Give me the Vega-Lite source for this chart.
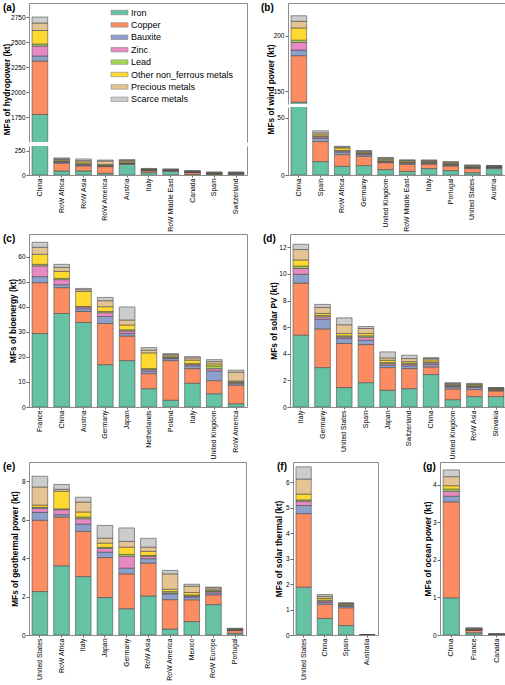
{
"$schema": "https://vega.github.io/schema/vega-lite/v6.json",
"padding": {"left": 2, "top": 3, "right": 0, "bottom": 0},
"datasets": {
"metals": [{"metal":"Iron","rank":1},{"metal":"Copper","rank":2},{"metal":"Bauxite","rank":3},{"metal":"Zinc","rank":4},{"metal":"Lead","rank":5},{"metal":"Other non_ferrous metals","rank":6},{"metal":"Precious metals","rank":7},{"metal":"Scarce metals","rank":8}],
"mf": [
{"p":"a","c":"China","Iron":1775,"Copper":535,"Bauxite":50,"Zinc":100,"Lead":20,"Other non_ferrous metals":135,"Precious metals":75,"Scarce metals":60},
{"p":"a","c":"RoW Africa","Iron":42,"Copper":80,"Bauxite":12,"Zinc":10,"Lead":3,"Other non_ferrous metals":12,"Precious metals":8,"Scarce metals":10},
{"p":"a","c":"RoW Asia","Iron":42,"Copper":52,"Bauxite":12,"Zinc":8,"Lead":3,"Other non_ferrous metals":18,"Precious metals":14,"Scarce metals":17},
{"p":"a","c":"RoW America","Iron":17,"Copper":70,"Bauxite":6,"Zinc":4,"Lead":3,"Other non_ferrous metals":10,"Precious metals":35,"Scarce metals":10},
{"p":"a","c":"Austria","Iron":110,"Copper":8,"Bauxite":3,"Zinc":3,"Lead":3,"Other non_ferrous metals":15,"Precious metals":8,"Scarce metals":10},
{"p":"a","c":"Italy","Iron":25,"Copper":18,"Bauxite":4,"Zinc":3,"Lead":2,"Other non_ferrous metals":6,"Precious metals":4,"Scarce metals":6},
{"p":"a","c":"RoW Middle East","Iron":37,"Copper":8,"Bauxite":3,"Zinc":2,"Lead":1,"Other non_ferrous metals":4,"Precious metals":3,"Scarce metals":5},
{"p":"a","c":"Canada","Iron":5,"Copper":20,"Bauxite":3,"Zinc":3,"Lead":1,"Other non_ferrous metals":4,"Precious metals":5,"Scarce metals":4},
{"p":"a","c":"Spain","Iron":6,"Copper":8,"Bauxite":2,"Zinc":2,"Lead":1,"Other non_ferrous metals":3,"Precious metals":5,"Scarce metals":4},
{"p":"a","c":"Switzerland","Iron":8,"Copper":6,"Bauxite":2,"Zinc":2,"Lead":1,"Other non_ferrous metals":4,"Precious metals":4,"Scarce metals":4},
{"p":"b","c":"China","Iron":140,"Copper":42,"Bauxite":5,"Zinc":7,"Lead":2,"Other non_ferrous metals":11,"Precious metals":6,"Scarce metals":5},
{"p":"b","c":"Spain","Iron":11.7,"Copper":17.5,"Bauxite":2.7,"Zinc":1.4,"Lead":0.6,"Other non_ferrous metals":1.2,"Precious metals":1.7,"Scarce metals":1.8},
{"p":"b","c":"RoW Africa","Iron":7.6,"Copper":10.2,"Bauxite":2.2,"Zinc":1.0,"Lead":0.5,"Other non_ferrous metals":2.2,"Precious metals":0.6,"Scarce metals":0.8},
{"p":"b","c":"Germany","Iron":8.2,"Copper":8.2,"Bauxite":1.4,"Zinc":0.9,"Lead":0.3,"Other non_ferrous metals":0.9,"Precious metals":0.9,"Scarce metals":0.5},
{"p":"b","c":"United Kingdom","Iron":4.7,"Copper":6.1,"Bauxite":0.8,"Zinc":0.6,"Lead":0.3,"Other non_ferrous metals":1.2,"Precious metals":1.0,"Scarce metals":0.6},
{"p":"b","c":"RoW Middle East","Iron":3.2,"Copper":6.2,"Bauxite":1.0,"Zinc":0.5,"Lead":0.3,"Other non_ferrous metals":1.0,"Precious metals":0.5,"Scarce metals":0.6},
{"p":"b","c":"Italy","Iron":5.6,"Copper":4.0,"Bauxite":0.8,"Zinc":0.5,"Lead":0.3,"Other non_ferrous metals":0.8,"Precious metals":0.6,"Scarce metals":0.6},
{"p":"b","c":"Portugal","Iron":3.8,"Copper":4.1,"Bauxite":0.9,"Zinc":0.5,"Lead":0.3,"Other non_ferrous metals":0.8,"Precious metals":0.7,"Scarce metals":0.6},
{"p":"b","c":"United States","Iron":2.0,"Copper":3.8,"Bauxite":0.6,"Zinc":0.4,"Lead":0.3,"Other non_ferrous metals":0.6,"Precious metals":0.6,"Scarce metals":0.5},
{"p":"b","c":"Austria","Iron":5.6,"Copper":0.8,"Bauxite":0.3,"Zinc":0.2,"Lead":0.2,"Other non_ferrous metals":0.6,"Precious metals":0.3,"Scarce metals":0.2},
{"p":"c","c":"France","Iron":29.3,"Copper":20.3,"Bauxite":2.4,"Zinc":4.3,"Lead":0.6,"Other non_ferrous metals":4.0,"Precious metals":2.8,"Scarce metals":2.0},
{"p":"c","c":"China","Iron":37.3,"Copper":10.3,"Bauxite":1.2,"Zinc":2.0,"Lead":0.5,"Other non_ferrous metals":2.8,"Precious metals":1.6,"Scarce metals":1.2},
{"p":"c","c":"Austria","Iron":33.7,"Copper":4.4,"Bauxite":1.1,"Zinc":0.7,"Lead":0.2,"Other non_ferrous metals":6.0,"Precious metals":0.7,"Scarce metals":0.5},
{"p":"c","c":"Germany","Iron":16.9,"Copper":16.4,"Bauxite":2.8,"Zinc":1.5,"Lead":0.5,"Other non_ferrous metals":1.9,"Precious metals":2.4,"Scarce metals":1.3},
{"p":"c","c":"Japan","Iron":18.5,"Copper":9.8,"Bauxite":1.0,"Zinc":1.0,"Lead":0.5,"Other non_ferrous metals":1.9,"Precious metals":2.0,"Scarce metals":5.2},
{"p":"c","c":"Netherlands","Iron":7.3,"Copper":6.0,"Bauxite":1.0,"Zinc":0.6,"Lead":0.4,"Other non_ferrous metals":6.3,"Precious metals":1.1,"Scarce metals":1.0},
{"p":"c","c":"Poland","Iron":2.7,"Copper":15.8,"Bauxite":0.8,"Zinc":0.3,"Lead":0.3,"Other non_ferrous metals":0.5,"Precious metals":0.5,"Scarce metals":0.4},
{"p":"c","c":"Italy","Iron":9.5,"Copper":5.8,"Bauxite":1.1,"Zinc":0.5,"Lead":0.4,"Other non_ferrous metals":1.4,"Precious metals":0.9,"Scarce metals":0.5},
{"p":"c","c":"United Kingdom","Iron":5.3,"Copper":5.2,"Bauxite":3.9,"Zinc":0.9,"Lead":1.1,"Other non_ferrous metals":0.8,"Precious metals":0.9,"Scarce metals":0.8},
{"p":"c","c":"RoW America","Iron":1.3,"Copper":7.4,"Bauxite":0.6,"Zinc":0.4,"Lead":0.3,"Other non_ferrous metals":0.4,"Precious metals":3.5,"Scarce metals":0.8},
{"p":"d","c":"Italy","Iron":5.40,"Copper":3.91,"Bauxite":0.66,"Zinc":0.45,"Lead":0.17,"Other non_ferrous metals":0.46,"Precious metals":0.78,"Scarce metals":0.40},
{"p":"d","c":"Germany","Iron":2.96,"Copper":2.91,"Bauxite":0.73,"Zinc":0.18,"Lead":0.10,"Other non_ferrous metals":0.15,"Precious metals":0.45,"Scarce metals":0.23},
{"p":"d","c":"United States","Iron":1.46,"Copper":3.31,"Bauxite":0.38,"Zinc":0.12,"Lead":0.08,"Other non_ferrous metals":0.17,"Precious metals":0.66,"Scarce metals":0.52},
{"p":"d","c":"Spain","Iron":1.83,"Copper":2.86,"Bauxite":0.33,"Zinc":0.23,"Lead":0.10,"Other non_ferrous metals":0.17,"Precious metals":0.38,"Scarce metals":0.15},
{"p":"d","c":"Japan","Iron":1.26,"Copper":1.70,"Bauxite":0.18,"Zinc":0.12,"Lead":0.08,"Other non_ferrous metals":0.17,"Precious metals":0.18,"Scarce metals":0.45},
{"p":"d","c":"Switzerland","Iron":1.38,"Copper":1.51,"Bauxite":0.20,"Zinc":0.12,"Lead":0.08,"Other non_ferrous metals":0.12,"Precious metals":0.23,"Scarce metals":0.25},
{"p":"d","c":"China","Iron":2.44,"Copper":0.57,"Bauxite":0.18,"Zinc":0.13,"Lead":0.07,"Other non_ferrous metals":0.15,"Precious metals":0.10,"Scarce metals":0.07},
{"p":"d","c":"United Kingdom","Iron":0.55,"Copper":0.81,"Bauxite":0.15,"Zinc":0.07,"Lead":0.05,"Other non_ferrous metals":0.05,"Precious metals":0.08,"Scarce metals":0.07},
{"p":"d","c":"RoW Asia","Iron":0.78,"Copper":0.53,"Bauxite":0.15,"Zinc":0.07,"Lead":0.05,"Other non_ferrous metals":0.08,"Precious metals":0.05,"Scarce metals":0.07},
{"p":"d","c":"Slovakia","Iron":0.78,"Copper":0.43,"Bauxite":0.05,"Zinc":0.05,"Lead":0.03,"Other non_ferrous metals":0.06,"Precious metals":0.03,"Scarce metals":0.03},
{"p":"e","c":"United States","Iron":2.26,"Copper":3.71,"Bauxite":0.41,"Zinc":0.21,"Lead":0.05,"Other non_ferrous metals":0.12,"Precious metals":0.94,"Scarce metals":0.56},
{"p":"e","c":"RoW Africa","Iron":3.6,"Copper":2.54,"Bauxite":0.12,"Zinc":0.26,"Lead":0.04,"Other non_ferrous metals":0.92,"Precious metals":0.10,"Scarce metals":0.25},
{"p":"e","c":"Italy","Iron":3.04,"Copper":2.35,"Bauxite":0.38,"Zinc":0.28,"Lead":0.09,"Other non_ferrous metals":0.26,"Precious metals":0.52,"Scarce metals":0.25},
{"p":"e","c":"Japan","Iron":1.95,"Copper":2.08,"Bauxite":0.28,"Zinc":0.19,"Lead":0.06,"Other non_ferrous metals":0.22,"Precious metals":0.26,"Scarce metals":0.66},
{"p":"e","c":"Germany","Iron":1.37,"Copper":1.81,"Bauxite":0.30,"Zinc":0.62,"Lead":0.09,"Other non_ferrous metals":0.38,"Precious metals":0.30,"Scarce metals":0.70},
{"p":"e","c":"RoW Asia","Iron":2.03,"Copper":1.71,"Bauxite":0.23,"Zinc":0.12,"Lead":0.05,"Other non_ferrous metals":0.21,"Precious metals":0.22,"Scarce metals":0.46},
{"p":"e","c":"RoW America","Iron":0.31,"Copper":1.53,"Bauxite":0.30,"Zinc":0.05,"Lead":0.07,"Other non_ferrous metals":0.12,"Precious metals":0.80,"Scarce metals":0.18},
{"p":"e","c":"Mexico","Iron":0.70,"Copper":1.13,"Bauxite":0.14,"Zinc":0.06,"Lead":0.05,"Other non_ferrous metals":0.13,"Precious metals":0.33,"Scarce metals":0.10},
{"p":"e","c":"RoW Europe","Iron":1.58,"Copper":0.51,"Bauxite":0.10,"Zinc":0.07,"Lead":0.04,"Other non_ferrous metals":0.05,"Precious metals":0.10,"Scarce metals":0.04},
{"p":"e","c":"Portugal","Iron":0.09,"Copper":0.14,"Bauxite":0.02,"Zinc":0.02,"Lead":0.01,"Other non_ferrous metals":0.02,"Precious metals":0.03,"Scarce metals":0.02},
{"p":"f","c":"United States","Iron":1.88,"Copper":2.89,"Bauxite":0.32,"Zinc":0.17,"Lead":0.05,"Other non_ferrous metals":0.23,"Precious metals":0.59,"Scarce metals":0.48},
{"p":"f","c":"China","Iron":0.65,"Copper":0.56,"Bauxite":0.07,"Zinc":0.06,"Lead":0.03,"Other non_ferrous metals":0.07,"Precious metals":0.08,"Scarce metals":0.07},
{"p":"f","c":"Spain","Iron":0.37,"Copper":0.70,"Bauxite":0.07,"Zinc":0.03,"Lead":0.02,"Other non_ferrous metals":0.04,"Precious metals":0.02,"Scarce metals":0.01},
{"p":"f","c":"Australia","Iron":0,"Copper":0,"Bauxite":0,"Zinc":0,"Lead":0,"Other non_ferrous metals":0,"Precious metals":0,"Scarce metals":0},
{"p":"g","c":"China","Iron":0.99,"Copper":2.55,"Bauxite":0.15,"Zinc":0.13,"Lead":0.06,"Other non_ferrous metals":0.09,"Precious metals":0.24,"Scarce metals":0.18},
{"p":"g","c":"France","Iron":0.06,"Copper":0.06,"Bauxite":0.01,"Zinc":0.01,"Lead":0.01,"Other non_ferrous metals":0.01,"Precious metals":0.02,"Scarce metals":0.01},
{"p":"g","c":"Canada","Iron":0.005,"Copper":0.008,"Bauxite":0.002,"Zinc":0.002,"Lead":0.001,"Other non_ferrous metals":0.002,"Precious metals":0.002,"Scarce metals":0.002}
]
},
"data": {"name": "mf"},
"transform": [
{"fold": ["Iron","Copper","Bauxite","Zinc","Lead","Other non_ferrous metals","Precious metals","Scarce metals"], "as": ["metal","kt"]},
{"lookup": "metal", "from": {"data": {"name": "metals"}, "key": "metal", "fields": ["rank"]}}
],
"spacing": 1,
"vconcat": [
{"hconcat": [
 {"vconcat": [
  {"width": 218, "height": 139, "title": {"text": "(a)", "dx": -26}, "view": {"stroke": null},
   "transform": [{"filter": {"field": "p", "equal": "a"}}],
   "layer": [
    {"mark": {"type": "bar", "clip": true},
     "encoding": {
      "x": {"field": "c", "type": "nominal", "sort": null, "axis": {"orient": "top", "labels": false, "ticks": false, "domain": true, "title": null}},
      "y": {"field": "kt", "type": "quantitative", "stack": "zero", "scale": {"domain": [1500, 2890], "nice": false, "zero": false}, "axis": {"values": [1750,2000,2250,2500,2750], "format": "d", "domain": true, "title": "MFs of hydropower (kt)", "titleX": -18, "titleY": 86}},
      "color": {"field": "metal", "type": "nominal", "scale": {"domain": ["Iron","Copper","Bauxite","Zinc","Lead","Other non_ferrous metals","Precious metals","Scarce metals"], "range": ["#66c2a5","#fc8d62","#8da0cb","#e78ac3","#a6d854","#ffd92f","#e5c494","#cccccc"]}, "legend": {"title": null}},
      "order": {"field": "rank", "type": "quantitative"}}},
    {"mark": {"type": "bar", "clip": true, "opacity": 0, "strokeOpacity": 0},
     "encoding": {
      "x": {"field": "c", "type": "nominal", "sort": null},
      "y": {"field": "kt", "type": "quantitative", "stack": "zero", "scale": {"domain": [1500, 2890], "nice": false, "zero": false}, "axis": {"orient": "right", "labels": false, "ticks": false, "domain": true, "title": null}}}}
   ],
   "resolve": {"axis": {"y": "independent"}}},
  {"width": 218, "height": 29, "view": {"stroke": null},
   "transform": [{"filter": {"field": "p", "equal": "a"}}],
   "layer": [
    {"mark": {"type": "bar", "clip": true},
     "encoding": {
      "x": {"field": "c", "type": "nominal", "sort": null, "title": null, "axis": {"domain": true}},
      "y": {"field": "kt", "type": "quantitative", "stack": "zero", "scale": {"domain": [0, 300], "nice": false}, "axis": {"values": [0,250], "domain": true, "title": null}},
      "color": {"field": "metal", "type": "nominal", "scale": {"domain": ["Iron","Copper","Bauxite","Zinc","Lead","Other non_ferrous metals","Precious metals","Scarce metals"], "range": ["#66c2a5","#fc8d62","#8da0cb","#e78ac3","#a6d854","#ffd92f","#e5c494","#cccccc"]}, "legend": {"title": null}},
      "order": {"field": "rank", "type": "quantitative"}}},
    {"mark": {"type": "bar", "clip": true, "opacity": 0, "strokeOpacity": 0},
     "encoding": {
      "x": {"field": "c", "type": "nominal", "sort": null},
      "y": {"field": "kt", "type": "quantitative", "stack": "zero", "scale": {"domain": [0, 300], "nice": false}, "axis": {"orient": "right", "labels": false, "ticks": false, "domain": true, "title": null}}}}
   ],
   "resolve": {"axis": {"y": "independent"}}}
 ], "spacing": 4, "bounds": "flush"},
 {"vconcat": [
  {"width": 217, "height": 101, "title": {"text": "(b)", "dx": -27}, "view": {"stroke": null},
   "transform": [{"filter": {"field": "p", "equal": "b"}}],
   "layer": [
    {"mark": {"type": "bar", "clip": true},
     "encoding": {
      "x": {"field": "c", "type": "nominal", "sort": null, "axis": {"orient": "top", "labels": false, "ticks": false, "domain": true, "title": null}},
      "y": {"field": "kt", "type": "quantitative", "stack": "zero", "scale": {"domain": [138.4, 229.5], "nice": false, "zero": false}, "axis": {"values": [150,200], "domain": true, "title": "MFs of wind power (kt)", "titleX": -13, "titleY": 86}},
      "color": {"field": "metal", "type": "nominal", "scale": {"domain": ["Iron","Copper","Bauxite","Zinc","Lead","Other non_ferrous metals","Precious metals","Scarce metals"], "range": ["#66c2a5","#fc8d62","#8da0cb","#e78ac3","#a6d854","#ffd92f","#e5c494","#cccccc"]}, "legend": {"title": null}},
      "order": {"field": "rank", "type": "quantitative"}}},
    {"mark": {"type": "bar", "clip": true, "opacity": 0, "strokeOpacity": 0},
     "encoding": {
      "x": {"field": "c", "type": "nominal", "sort": null},
      "y": {"field": "kt", "type": "quantitative", "stack": "zero", "scale": {"domain": [138.4, 229.5], "nice": false, "zero": false}, "axis": {"orient": "right", "labels": false, "ticks": false, "domain": true, "title": null}}}}
   ],
   "resolve": {"axis": {"y": "independent"}}},
  {"width": 217, "height": 68, "view": {"stroke": null},
   "transform": [{"filter": {"field": "p", "equal": "b"}}],
   "layer": [
    {"mark": {"type": "bar", "clip": true},
     "encoding": {
      "x": {"field": "c", "type": "nominal", "sort": null, "title": null, "axis": {"domain": true}},
      "y": {"field": "kt", "type": "quantitative", "stack": "zero", "scale": {"domain": [0, 59.4], "nice": false}, "axis": {"values": [0,50], "domain": true, "title": null}},
      "color": {"field": "metal", "type": "nominal", "scale": {"domain": ["Iron","Copper","Bauxite","Zinc","Lead","Other non_ferrous metals","Precious metals","Scarce metals"], "range": ["#66c2a5","#fc8d62","#8da0cb","#e78ac3","#a6d854","#ffd92f","#e5c494","#cccccc"]}, "legend": {"title": null}},
      "order": {"field": "rank", "type": "quantitative"}}},
    {"mark": {"type": "bar", "clip": true, "opacity": 0, "strokeOpacity": 0},
     "encoding": {
      "x": {"field": "c", "type": "nominal", "sort": null},
      "y": {"field": "kt", "type": "quantitative", "stack": "zero", "scale": {"domain": [0, 59.4], "nice": false}, "axis": {"orient": "right", "labels": false, "ticks": false, "domain": true, "title": null}}}}
   ],
   "resolve": {"axis": {"y": "independent"}}}
 ], "spacing": 3, "bounds": "flush"}
], "spacing": 14},
{"hconcat": [
  {"width": 218, "height": 173, "title": {"text": "(c)", "dx": -26},
   "transform": [{"filter": {"field": "p", "equal": "c"}}],
   "mark": {"type": "bar", "clip": true},
   "encoding": {
    "x": {"field": "c", "type": "nominal", "sort": null, "title": null},
    "y": {"field": "kt", "type": "quantitative", "stack": "zero", "scale": {"domain": [0, 69], "nice": false}, "axis": {"values": [0,10,20,30,40,50,60], "title": "MFs of bioenergy (kt)", "titleX": -12}},
    "color": {"field": "metal", "type": "nominal", "scale": {"domain": ["Iron","Copper","Bauxite","Zinc","Lead","Other non_ferrous metals","Precious metals","Scarce metals"], "range": ["#66c2a5","#fc8d62","#8da0cb","#e78ac3","#a6d854","#ffd92f","#e5c494","#cccccc"]}, "legend": {"title": null}},
    "order": {"field": "rank", "type": "quantitative"}}},
  {"width": 217, "height": 173, "title": {"text": "(d)", "dx": -27},
   "transform": [{"filter": {"field": "p", "equal": "d"}}],
   "mark": {"type": "bar", "clip": true},
   "encoding": {
    "x": {"field": "c", "type": "nominal", "sort": null, "title": null},
    "y": {"field": "kt", "type": "quantitative", "stack": "zero", "scale": {"domain": [0, 13], "nice": false}, "axis": {"values": [0,2,4,6,8,10,12], "title": "MFs of solar PV (kt)", "titleX": -12}},
    "color": {"field": "metal", "type": "nominal", "scale": {"domain": ["Iron","Copper","Bauxite","Zinc","Lead","Other non_ferrous metals","Precious metals","Scarce metals"], "range": ["#66c2a5","#fc8d62","#8da0cb","#e78ac3","#a6d854","#ffd92f","#e5c494","#cccccc"]}, "legend": {"title": null}},
    "order": {"field": "rank", "type": "quantitative"}}}
], "spacing": 14},
{"hconcat": [
  {"width": 217, "height": 173, "title": {"text": "(e)", "dx": -26},
   "transform": [{"filter": {"field": "p", "equal": "e"}}],
   "mark": {"type": "bar", "clip": true},
   "encoding": {
    "x": {"field": "c", "type": "nominal", "sort": null, "title": null},
    "y": {"field": "kt", "type": "quantitative", "stack": "zero", "scale": {"domain": [0, 9], "nice": false}, "axis": {"values": [0,2,4,6,8], "title": "MFs of geothermal power (kt)", "titleX": -10}},
    "color": {"field": "metal", "type": "nominal", "scale": {"domain": ["Iron","Copper","Bauxite","Zinc","Lead","Other non_ferrous metals","Precious metals","Scarce metals"], "range": ["#66c2a5","#fc8d62","#8da0cb","#e78ac3","#a6d854","#ffd92f","#e5c494","#cccccc"]}, "legend": {"title": null}},
    "order": {"field": "rank", "type": "quantitative"}}},
  {"hconcat": [
   {"width": 85, "height": 173, "title": {"text": "(f)", "dx": -16},
    "transform": [{"filter": {"field": "p", "equal": "f"}}],
    "mark": {"type": "bar", "clip": true},
    "encoding": {
     "x": {"field": "c", "type": "nominal", "sort": null, "title": null},
     "y": {"field": "kt", "type": "quantitative", "stack": "zero", "scale": {"domain": [0, 6.8], "nice": false}, "axis": {"values": [0,1,2,3,4,5,6], "title": "MFs of solar thermal (kt)", "titleX": -10}},
     "color": {"field": "metal", "type": "nominal", "scale": {"domain": ["Iron","Copper","Bauxite","Zinc","Lead","Other non_ferrous metals","Precious metals","Scarce metals"], "range": ["#66c2a5","#fc8d62","#8da0cb","#e78ac3","#a6d854","#ffd92f","#e5c494","#cccccc"]}, "legend": {"title": null}},
     "order": {"field": "rank", "type": "quantitative"}}},
   {"width": 68, "height": 173, "title": {"text": "(g)", "dx": -17},
    "transform": [{"filter": {"field": "p", "equal": "g"}}],
    "mark": {"type": "bar", "clip": true},
    "encoding": {
     "x": {"field": "c", "type": "nominal", "sort": null, "title": null},
     "y": {"field": "kt", "type": "quantitative", "stack": "zero", "scale": {"domain": [0, 4.6], "nice": false}, "axis": {"values": [0,1,2,3,4], "title": "MFs of ocean power (kt)", "titleX": -8}},
     "color": {"field": "metal", "type": "nominal", "scale": {"domain": ["Iron","Copper","Bauxite","Zinc","Lead","Other non_ferrous metals","Precious metals","Scarce metals"], "range": ["#66c2a5","#fc8d62","#8da0cb","#e78ac3","#a6d854","#ffd92f","#e5c494","#cccccc"]}, "legend": {"title": null}},
     "order": {"field": "rank", "type": "quantitative"}}}
  ], "spacing": 43}
], "spacing": 26}
],
"config": {
 "font": "Liberation Sans",
 "view": {"stroke": "#8c8c8c", "strokeWidth": 1},
 "bar": {"stroke": "#4d4d4d", "strokeWidth": 0.6},
 "scale": {"bandPaddingInner": 0.28, "bandPaddingOuter": 0.14},
 "axis": {"grid": false, "domain": false, "domainColor": "#8c8c8c", "domainWidth": 1, "tickColor": "#666666", "labelColor": "#000000", "titleColor": "#000000"},
 "axisX": {"labelAngle": -90, "labelFontSize": 6.9, "tickSize": 2, "labelPadding": 1},
 "axisY": {"labelFontSize": 6.5, "tickSize": 3, "labelPadding": 1, "titleFontSize": 8.3, "titleFontWeight": "bold", "titlePadding": 2},
 "title": {"fontSize": 10, "fontWeight": "bold", "anchor": "start", "frame": "group", "offset": -10, "color": "#000000"},
 "legend": {"orient": "none", "legendX": 85, "legendY": 4, "symbolType": "M-1.7,-0.45H1.7V0.45H-1.7Z", "symbolSize": 100, "symbolStrokeColor": "#888888", "symbolStrokeWidth": 1, "symbolOpacity": 1, "labelFontSize": 9, "labelOffset": 6, "rowPadding": 1.4, "padding": 0, "labelColor": "#000000"}
}
}
